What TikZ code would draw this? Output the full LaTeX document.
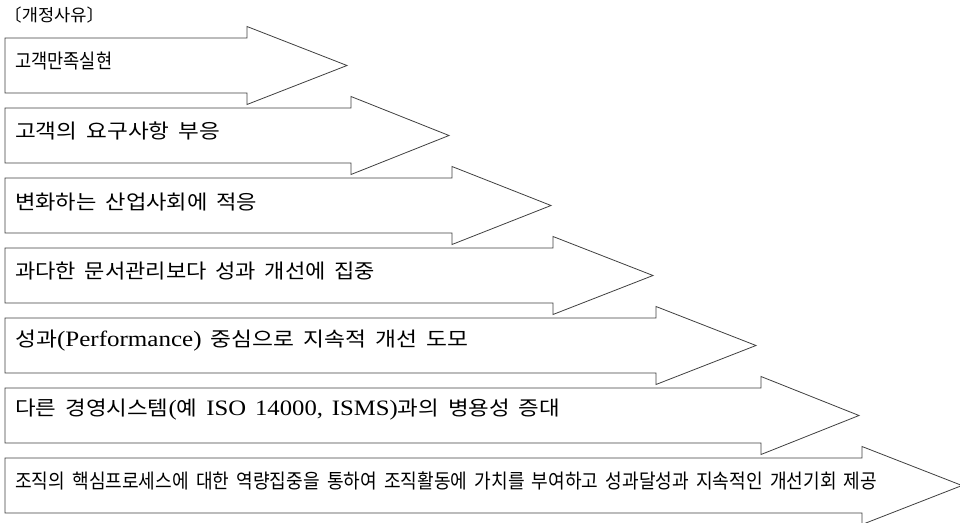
\documentclass[tikz,border=0pt]{standalone}
\usepackage{fontspec}
\usepackage{graphicx}
\setmainfont{Liberation Serif}
\newfontfamily\kr{Noto Sans CJK KR}
\newcommand{\lat}[2][22]{{\rmfamily\fontsize{#1}{#1}\selectfont #2}}
\newcommand{\fitw}[2]{\resizebox{#1pt}{\height}{\spaceskip=8pt\relax #2}}
\tikzset{
  arrowshape/.style={draw=black!75, line width=0.8pt, fill=white, line join=miter},
  lbl/.style={anchor=west, inner sep=0pt, font=\kr\fontsize{20}{24}\selectfont}
}
\begin{document}
\begin{tikzpicture}[x=1pt,y=-1pt]
\useasboundingbox (0,0) rectangle (960,522);
\node[lbl, font=\kr\fontsize{17}{20}\selectfont] (title) at (4,15) {\fitw{100}{〔개정사유〕}};
\foreach \i/\base/\tip in {0/247/347, 1/351/449, 2/452/551, 3/553/653, 4/656/756, 5/761/859, 6/862/962}{
  \pgfmathsetmacro{\top}{38+70*\i}
  \pgfmathsetmacro{\bot}{\top+55}
  \pgfmathsetmacro{\htop}{\top-11.5}
  \pgfmathsetmacro{\hbot}{\bot+11.5}
  \pgfmathsetmacro{\mid}{\top+27.5}
  \draw[arrowshape] (5,\top) -- (\base,\top) -- (\base,\htop) -- (\tip,\mid) -- (\base,\hbot) -- (\base,\bot) -- (5,\bot) -- cycle;
}
\node[lbl] (t1) at (15,61) {\fitw{97}{고객만족실현}};
\node[lbl] (t2) at (15,131) {\fitw{205}{고객의 요구사항 부응}};
\node[lbl] (t3) at (15,202) {\fitw{242}{변화하는 산업사회에 적응}};
\node[lbl] (t4) at (15,271) {\fitw{360}{과다한 문서관리보다 성과 개선에 집중}};
\node[lbl] (t5) at (15,341) {\fitw{453}{성과\lat{(Performance)} 중심으로 지속적 개선 도모}};
\node[lbl] (t6) at (15,410) {\fitw{545}{다른 경영시스템\lat{(}예 \lat{ISO 14000, ISMS)}과의 병용성 증대}};
\node[lbl] (t7) at (15,481) {\fitw{862}{조직의 핵심프로세스에 대한 역량집중을 통하여 조직활동에 가치를 부여하고 성과달성과 지속적인 개선기회 제공}};
\end{tikzpicture}
\end{document}
